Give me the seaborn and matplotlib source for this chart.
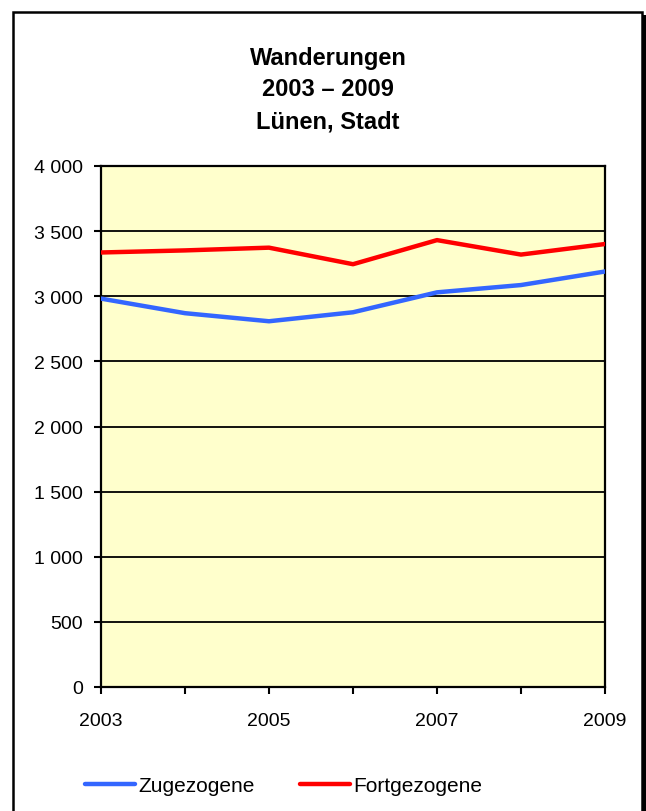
import pandas as pd
import matplotlib
matplotlib.use('Agg')
import matplotlib.pyplot as plt
import seaborn as sns
from matplotlib.patches import Rectangle
from matplotlib.ticker import FuncFormatter

# Data
years = [2003, 2004, 2005, 2006, 2007, 2008, 2009]
zugezogene = [2982, 2870, 2808, 2877, 3030, 3086, 3190]
fortgezogene = [3336, 3352, 3373, 3246, 3431, 3320, 3401]
series_names = ['Zugezogene', 'Fortgezogene']
title_lines = ['Wanderungen', '2003 – 2009', 'Lünen, Stadt']
year_labels = ['2003', '', '2005', '', '2007', '', '2009']
y_ticks = [0, 500, 1000, 1500, 2000, 2500, 3000, 3500, 4000]

df = pd.DataFrame({
    'Jahr': years * 2,
    'Anzahl': zugezogene + fortgezogene,
    'Art': [series_names[0]] * len(years) + [series_names[1]] * len(years),
})

sns.set_style('white')
plt.rcParams['font.family'] = ['Liberation Sans', 'DejaVu Sans']
plt.rcParams['text.color'] = 'black'

fig = plt.figure(figsize=(6.46, 8.12), dpi=100)
W, H = 646, 812

# outer frame with drop shadow
fig.patches.append(Rectangle((16.5 / W, -0.05), 629 / W, 1 - 16 / H + 0.05,
                             transform=fig.transFigure, facecolor='black',
                             edgecolor='none', zorder=-2))
fig.patches.append(Rectangle((13 / W, -0.05), 629 / W, 1 - 12.5 / H + 0.05,
                             transform=fig.transFigure, facecolor='white',
                             edgecolor='black', linewidth=1.8, zorder=-1))

ax = fig.add_axes([101 / W, 1 - 688 / H, 504 / W, 521 / H])
ax.set_zorder(2)
ax.set_facecolor('#FFFFCC')

sns.lineplot(data=df, x='Jahr', y='Anzahl', hue='Art', ax=ax,
             palette={'Zugezogene': '#3366FF', 'Fortgezogene': '#FF0000'},
             linewidth=3.2, legend=False, zorder=3)

ax.set_xlim(2003, 2009)
ax.set_ylim(0, 4000)
ax.set_xticks(years)
ax.set_xticklabels(year_labels)
ax.set_yticks(y_ticks)
ax.yaxis.set_major_formatter(FuncFormatter(lambda v, p: f'{int(v):,}'.replace(',', ' ')))
ax.set_xlabel('')
ax.set_ylabel('')
ax.grid(axis='y', color='black', linewidth=1.3)
ax.grid(axis='x', visible=False)
ax.set_axisbelow(True)
for s in ax.spines.values():
    s.set_color('black')
    s.set_linewidth(1.6)
ax.tick_params(axis='both', direction='out', length=5, width=1.5,
               color='black', labelsize=14, labelcolor='black')
ax.tick_params(axis='x', pad=13, bottom=True)
ax.tick_params(axis='y', pad=8, left=True)

# title
for i, line in enumerate(title_lines):
    fig.text(328 / W, 1 - (58 + 32 * i) / H, line, ha='center', va='center',
             fontsize=17, fontweight='bold', color='black', zorder=3)

# legend
handles = [plt.Line2D([], [], color='#3366FF', linewidth=3.2),
           plt.Line2D([], [], color='#FF0000', linewidth=3.2)]
leg = fig.legend(handles, series_names, loc='center left',
                 bbox_to_anchor=(85 / W, 1 - 787 / H), ncol=2, frameon=False,
                 fontsize=15, handlelength=2.4, handletextpad=0.15,
                 columnspacing=2.2, borderpad=0, borderaxespad=0)
leg.set_zorder(3)
for t in leg.get_texts():
    t.set_color('black')

fig.savefig('out.png', dpi=100)
